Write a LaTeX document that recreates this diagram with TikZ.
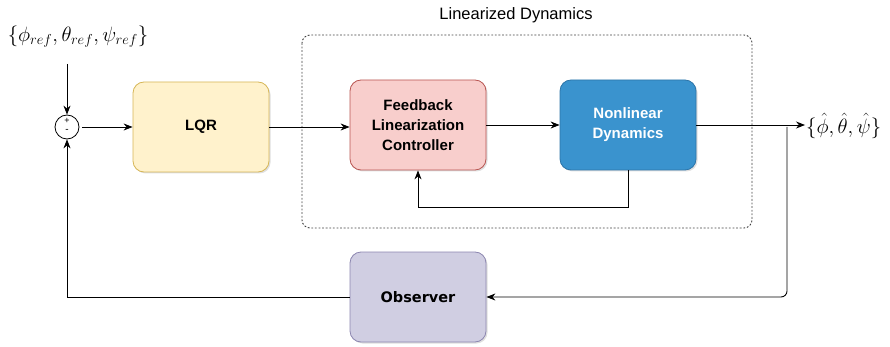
\documentclass[tikz,border=0pt]{standalone}
\usepackage{fontspec}
\setmainfont{Liberation Sans}
\newfontfamily\obsfont{DejaVu Sans}
\usetikzlibrary{arrows.meta,shadows}
\definecolor{lqrfill}{HTML}{FFF2CC}
\definecolor{lqrdraw}{HTML}{D6B656}
\definecolor{flcfill}{HTML}{F8CECC}
\definecolor{flcdraw}{HTML}{B85450}
\definecolor{ndfill}{HTML}{3A93CE}
\definecolor{nddraw}{HTML}{2C74A8}
\definecolor{obsfill}{HTML}{D0CEE2}
\definecolor{obsdraw}{HTML}{8C86B0}
\tikzset{
  blockbox/.style={rounded corners=11pt, minimum width=136pt, minimum height=90pt,
    align=center, font=\bfseries\fontsize{15}{20}\selectfont, line width=0.8pt,
    drop shadow={shadow xshift=1.5pt, shadow yshift=-1.5pt, opacity=0.25}},
  flow/.style={line width=0.9pt, -{Stealth[length=9pt,width=7pt]}},
}
\begin{document}
\begin{tikzpicture}[x=1pt,y=-1pt]
  \useasboundingbox (0,0) rectangle (890,347);
  % dashed frame of the linearized loop
  \draw[line width=0.9pt, dash pattern=on 1.8pt off 1.8pt, rounded corners=8pt, black!75] (302,35) rectangle (752,228);
  \node[font=\fontsize{16.5}{19}\selectfont] (ldlabel) at (516,15) {Linearized Dynamics};

  % blocks
  \node[blockbox, fill=lqrfill, draw=lqrdraw] (lqr) at (201,127) {LQR};
  \node[blockbox, fill=flcfill, draw=flcdraw] (flc) at (418,125) {Feedback\\Linearization\\Controller};
  \node[blockbox, fill=ndfill, draw=nddraw, text=white] (nd) at (628,125) {Nonlinear\\Dynamics};
  \node[blockbox, fill=obsfill, draw=obsdraw, font=\obsfont\bfseries\fontsize{14.5}{17}\selectfont] (obs) at (418,297) {Observer};

  % summing junction
  \node[circle, draw, line width=0.8pt, minimum size=24pt, inner sep=0pt] (sum) at (67,127) {};
  \node[font=\fontsize{9}{9}\selectfont, inner sep=0pt] (plus) at (67,121) {+};
  \node[font=\fontsize{10}{10}\selectfont, inner sep=0pt] (minus) at (67,131) {-};

  % reference and output
  \node[font=\fontsize{21}{24}\selectfont] (ref) at (78,37) {$\{\phi_{ref},\theta_{ref},\psi_{ref}\}$};
  \node[font=\fontsize{21}{24}\selectfont, anchor=west, inner sep=1pt] (out) at (805,126) {$\{\hat{\phi},\hat{\theta},\hat{\psi}\}$};
  \coordinate (refend) at (67,64);
  \coordinate (branch) at (787,127);

  % signal flow
  \draw[flow] (refend) -- (sum.north);
  \draw[flow] (sum.east) ++(3,0) -- (lqr.west);
  \draw[flow] (lqr.east) -- (flc.west |- lqr.east);
  \draw[flow] (flc.east) -- (nd.west);
  \draw[flow] (nd.east) -- (out.west |- nd.east);
  \draw[flow] (nd.south) -- ++(0,37) -| (flc.south);
  \draw[flow, rounded corners=6pt] (branch) |- (obs.east);
  \draw[flow] (obs.west) -| (sum.south);
\end{tikzpicture}
\end{document}
